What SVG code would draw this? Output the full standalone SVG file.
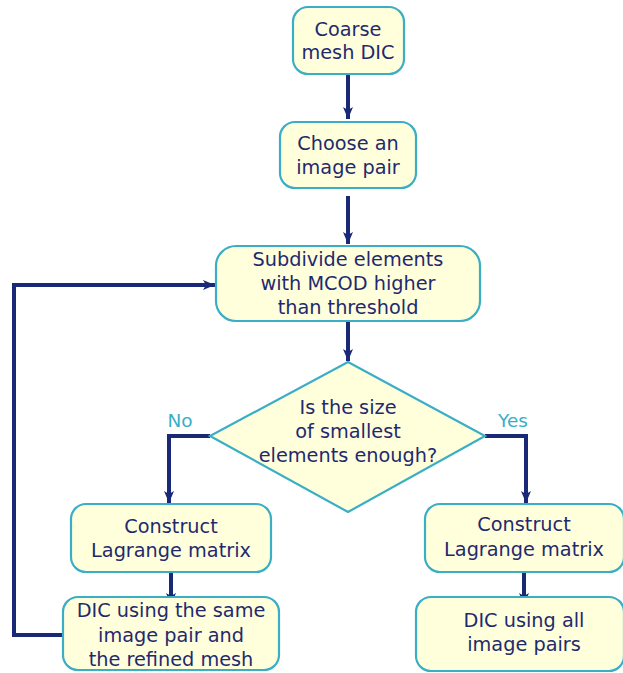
<svg xmlns="http://www.w3.org/2000/svg" width="623" height="673" viewBox="0 0 623 673">
<style>
.box{fill:#ffffdc;stroke:#3aaec6;stroke-width:2.2}
.t{font-family:"DejaVu Sans",sans-serif;font-size:19.3px;fill:#1f2a6e;text-anchor:middle}
.lbl{font-family:"DejaVu Sans",sans-serif;font-size:18.5px;fill:#3aaec6;text-anchor:middle}
.c{fill:none;stroke:#1a2878;stroke-width:4}
</style>
<defs>
<marker id="ah" viewBox="0 0 12 10" refX="12" refY="5" markerWidth="12" markerHeight="10" markerUnits="userSpaceOnUse" orient="auto">
<path d="M0,0 L12,5 L0,10 L3,5 Z" fill="#1a2878"/>
</marker>
</defs>
<rect width="623" height="673" fill="#ffffff"/>
<g id="connectors">
<path class="c" d="M348,75 V119" marker-end="url(#ah)"/>
<path class="c" d="M348,196 V244" marker-end="url(#ah)"/>
<path class="c" d="M348,322 V361" marker-end="url(#ah)"/>
<path class="c" d="M210,436 H169 V503" marker-end="url(#ah)"/>
<path class="c" d="M485,436 H526 V503" marker-end="url(#ah)"/>
<path class="c" d="M171,573 V605" marker-end="url(#ah)"/>
<path class="c" d="M524,573 V605" marker-end="url(#ah)"/>
<path class="c" d="M63,635 H14 V285 H215" marker-end="url(#ah)"/>
<text class="lbl" x="180" y="427">No</text>
<text class="lbl" x="513" y="427">Yes</text>
</g>
<g id="n1">
<rect class="box" x="293" y="7" width="111" height="67" rx="15"/>
<text class="t" x="348" y="36">Coarse</text>
<text class="t" x="348" y="59">mesh DIC</text>
</g>
<g id="n2">
<rect class="box" x="280" y="122" width="136" height="66" rx="15"/>
<text class="t" x="348" y="150">Choose an</text>
<text class="t" x="348" y="174">image pair</text>
</g>
<g id="n3">
<rect class="box" x="216" y="246" width="264" height="75" rx="20"/>
<text class="t" x="348" y="266">Subdivide elements</text>
<text class="t" x="348" y="290">with MCOD higher</text>
<text class="t" x="348" y="314">than threshold</text>
</g>
<g id="n4">
<path class="box" d="M348,362 L485,436 L348,512 L210,436 Z"/>
<text class="t" x="348" y="414">Is the size</text>
<text class="t" x="348" y="438">of smallest</text>
<text class="t" x="348" y="462">elements enough?</text>
</g>
<g id="n5">
<rect class="box" x="71" y="504" width="200" height="68" rx="15"/>
<text class="t" x="171" y="533">Construct</text>
<text class="t" x="171" y="557">Lagrange matrix</text>
</g>
<g id="n6">
<rect class="box" x="425" y="504" width="199" height="68" rx="15"/>
<text class="t" x="524" y="531">Construct</text>
<text class="t" x="524" y="556">Lagrange matrix</text>
</g>
<g id="n7">
<rect class="box" x="63" y="597" width="216" height="73" rx="15"/>
<text class="t" x="171" y="617">DIC using the same</text>
<text class="t" x="171" y="642">image pair and</text>
<text class="t" x="171" y="666">the refined mesh</text>
</g>
<g id="n8">
<rect class="box" x="416" y="597" width="208" height="74" rx="15"/>
<text class="t" x="524" y="627">DIC using all</text>
<text class="t" x="524" y="651">image pairs</text>
</g>
</svg>
